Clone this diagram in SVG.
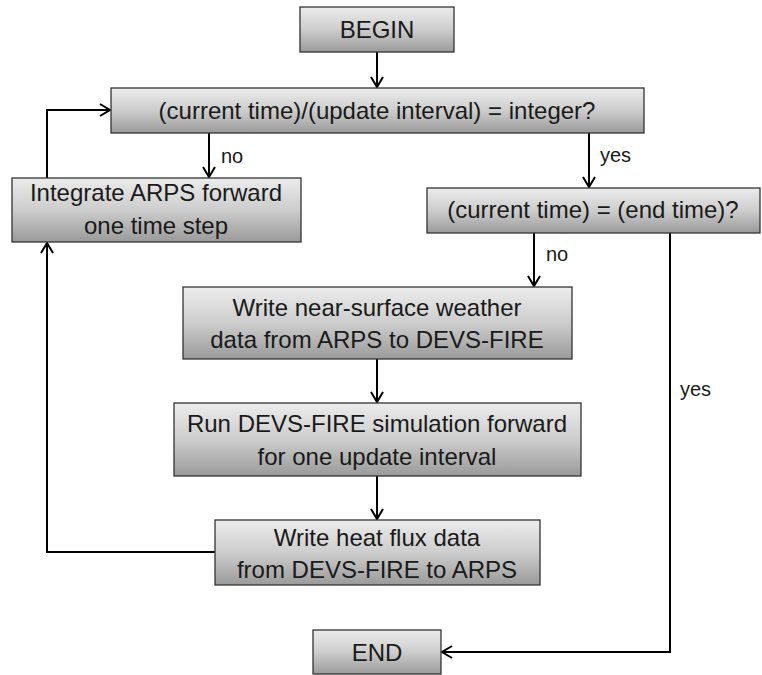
<svg xmlns="http://www.w3.org/2000/svg" width="762" height="675" viewBox="0 0 762 675">
<defs>
<linearGradient id="g" x1="0" y1="0" x2="0" y2="1">
<stop offset="0" stop-color="#ececec"/>
<stop offset="0.5" stop-color="#cdcdcd"/>
<stop offset="1" stop-color="#9a9a9a"/>
</linearGradient>
<marker id="a" markerWidth="14" markerHeight="14" viewBox="-12 -7 14 14" refX="0" refY="0" orient="auto" markerUnits="userSpaceOnUse">
<path d="M-10,-6 L0,0 L-10,6" fill="none" stroke="#000" stroke-width="2"/>
</marker>
</defs>
<style>
.box{fill:url(#g);stroke:#333;stroke-width:1.3}
.t{font-family:"Liberation Sans",Arial,sans-serif;font-size:24px;fill:#1a1a1a;text-anchor:middle}
.l{font-family:"Liberation Sans",Arial,sans-serif;font-size:20px;fill:#1a1a1a}
.c{fill:none;stroke:#000;stroke-width:2;marker-end:url(#a)}
</style>
<g id="connectors">
<path class="c" d="M377,52 V87"/>
<path class="c" d="M47,178 V110 H110"/>
<path class="c" d="M209,133 V177"/>
<path class="c" d="M589,133 V187"/>
<path class="c" d="M534,233 V286"/>
<path class="c" d="M377,359 V402"/>
<path class="c" d="M377,476 V519"/>
<path class="c" d="M215,552 H47 V243"/>
<path class="c" d="M670,233 V652 H442"/>
<text class="l" x="221" y="163">no</text>
<text class="l" x="600" y="162">yes</text>
<text class="l" x="546" y="261">no</text>
<text class="l" x="680" y="396">yes</text>
</g>
<g id="begin">
<rect class="box" x="300" y="7" width="154" height="45"/>
<text class="t" x="377" y="38">BEGIN</text>
</g>
<g id="check-interval">
<rect class="box" x="111" y="88" width="533" height="45"/>
<text class="t" x="377" y="119">(current time)/(update interval) = integer?</text>
</g>
<g id="integrate">
<rect class="box" x="12" y="178" width="289" height="64"/>
<text class="t" x="156" y="201">Integrate ARPS forward</text>
<text class="t" x="156" y="234">one time step</text>
</g>
<g id="check-end">
<rect class="box" x="427" y="188" width="333" height="45"/>
<text class="t" x="593" y="218">(current time) = (end time)?</text>
</g>
<g id="write-weather">
<rect class="box" x="183" y="287" width="389" height="72"/>
<text class="t" x="377" y="316">Write near-surface weather</text>
<text class="t" x="377" y="348">data from ARPS to DEVS-FIRE</text>
</g>
<g id="run-devs">
<rect class="box" x="174" y="403" width="407" height="73"/>
<text class="t" x="377" y="432">Run DEVS-FIRE simulation forward</text>
<text class="t" x="377" y="465">for one update interval</text>
</g>
<g id="write-heat">
<rect class="box" x="215" y="520" width="325" height="65"/>
<text class="t" x="377" y="546">Write heat flux data</text>
<text class="t" x="377" y="578">from DEVS-FIRE to ARPS</text>
</g>
<g id="end">
<rect class="box" x="313" y="630" width="128" height="44"/>
<text class="t" x="377" y="661">END</text>
</g>
</svg>
